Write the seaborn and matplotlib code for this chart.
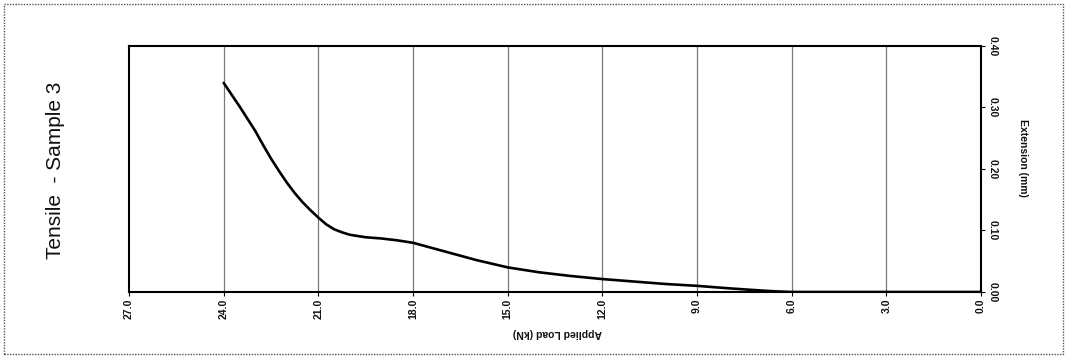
import matplotlib
matplotlib.use("Agg")
import matplotlib.pyplot as plt
import seaborn as sns
import pandas as pd
from matplotlib.patches import Rectangle

load_kn = [24.0, 23.75, 23.5, 23.25, 23.0, 22.75, 22.5, 22.25, 22.0, 21.75,
           21.5, 21.25, 21.0, 20.75, 20.5, 20.25, 20.0, 19.75, 19.5, 19.0,
           18.5, 18.0, 17.5, 17.0, 16.0, 15.0, 14.0, 13.0, 12.0, 11.0, 10.0,
           9.0, 8.0, 7.0, 6.5, 6.0, 5.0, 4.0, 3.0, 2.0, 1.0, 0.0]
extension_mm = [0.340, 0.321, 0.302, 0.282, 0.262, 0.239, 0.217, 0.197, 0.178,
                0.161, 0.146, 0.133, 0.121, 0.110, 0.102, 0.097, 0.093, 0.091,
                0.089, 0.087, 0.084, 0.080, 0.073, 0.066, 0.052, 0.040, 0.032,
                0.026, 0.021, 0.017, 0.013, 0.010, 0.006, 0.0025, 0.001, 0.0,
                0.0, 0.0, 0.0, 0.0, 0.0, 0.0]
x_ticks = [27.0, 24.0, 21.0, 18.0, 15.0, 12.0, 9.0, 6.0, 3.0, 0.0]
y_ticks = [0.0, 0.1, 0.2, 0.3, 0.4]
title = "Tensile  - Sample 3"
x_label = "Applied Load (kN)"
y_label = "Extension (mm)"

sns.set_theme(style="white")
plt.rcParams['font.family'] = ['Liberation Sans', 'DejaVu Sans']

df = pd.DataFrame({"load": load_kn, "ext": extension_mm})

fig = plt.figure(figsize=(10.67, 3.58), dpi=100)
ax = fig.add_axes([0.1209, 0.1844, 0.7985, 0.6871])

for t in x_ticks[1:-1]:
    ax.axvline(t, color="#7a7a7a", linewidth=0.9, zorder=0)

sns.lineplot(data=df, x="load", y="ext", ax=ax, color="black", linewidth=1.9,
             sort=False, estimator=None)

ax.set_xlim(27.0, 0.0)
ax.set_ylim(0.0, 0.4)
ax.set_xticks(x_ticks)
ax.set_xticklabels([f"{t:.1f}" for t in x_ticks], rotation=90, fontsize=7.5,
                   fontweight="bold")
ax.yaxis.tick_right()
ax.set_yticks(y_ticks)
ax.set_yticklabels([f"{t:.2f}" for t in y_ticks], rotation=270, fontsize=7.5,
                   va="center", fontweight="bold")
ax.tick_params(axis="both", direction="out", length=3, width=0.8,
               color="black", pad=2, labelcolor="#111111")
ax.tick_params(axis="x", bottom=True)
ax.tick_params(axis="y", right=True, left=False)
ax.set_xlabel("")
ax.set_ylabel("")
for s in ax.spines.values():
    s.set_color("black")
    s.set_linewidth(1.5)
    s.set_visible(True)

fig.text(0.052, 0.525, title, rotation=90, ha="center", va="center",
         fontsize=15, color="#111111")
fig.text(0.522, 0.07, x_label, rotation=180, ha="center", va="center",
         fontsize=7.5, fontweight="bold", color="#111111")
fig.text(0.959, 0.56, y_label, rotation=270, ha="center", va="center",
         fontsize=7.5, fontweight="bold", color="#111111")

fig.patches.append(Rectangle((0.004, 0.011), 0.992, 0.978,
                             transform=fig.transFigure, fill=False,
                             edgecolor="#555555", linestyle=(0, (1, 1)),
                             linewidth=1.0))

fig.savefig("out.png", dpi=100)
